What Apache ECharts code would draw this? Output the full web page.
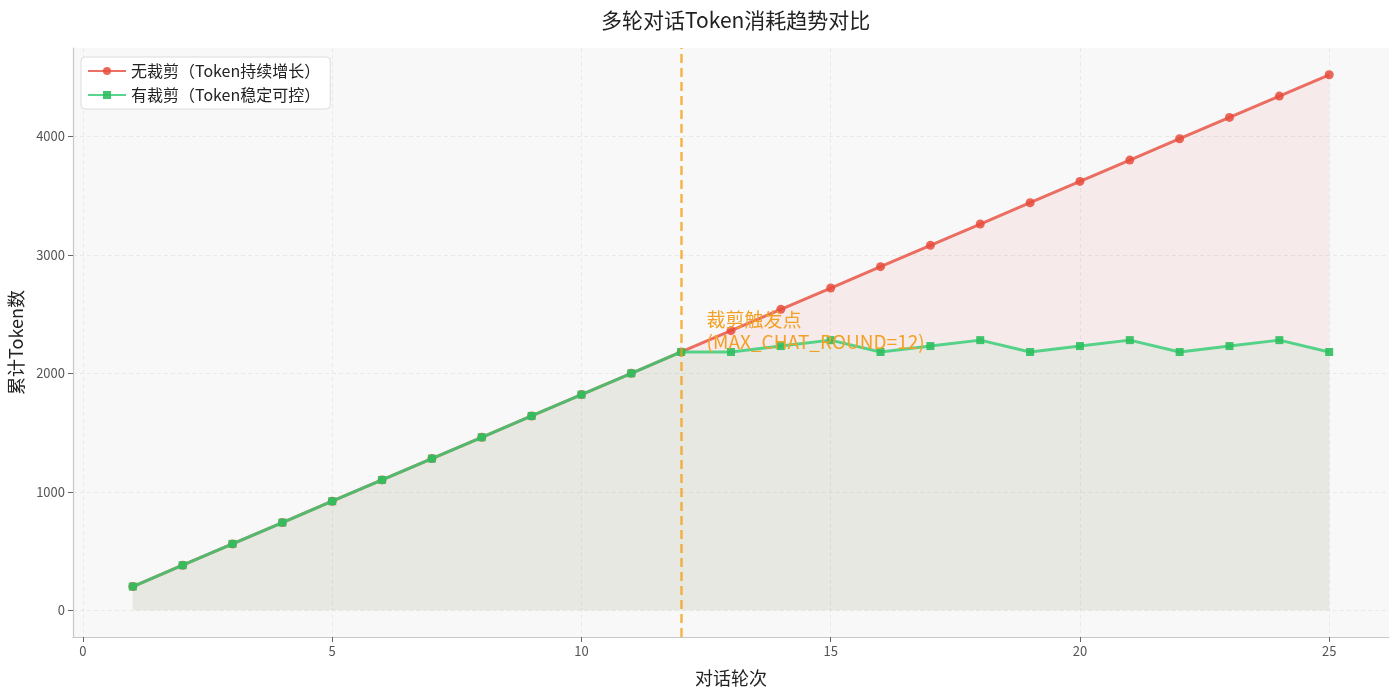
<!DOCTYPE html>
<html>
<head>
<meta charset="utf-8">
<script src="https://cdn.jsdelivr.net/npm/echarts@6/dist/echarts.min.js"></script>
<style>
  html, body { margin: 0; padding: 0; background: #fff; }
  #chart { width: 1400px; height: 695px; }
</style>
</head>
<body>
<div id="chart"></div>
<script>
// 对话轮次
const rounds = [1, 2, 3, 4, 5, 6, 7, 8, 9, 10, 11, 12, 13, 14, 15, 16, 17, 18, 19, 20, 21, 22, 23, 24, 25];
// 无裁剪 累计Token
const noTrimTokens = [200, 380, 560, 740, 920, 1100, 1280, 1460, 1640, 1820, 2000, 2180, 2360,
  2540, 2720, 2900, 3080, 3260, 3440, 3620, 3800, 3980, 4160, 4340, 4520];
// 有裁剪 累计Token
const trimTokens = [200, 380, 560, 740, 920, 1100, 1280, 1460, 1640, 1820, 2000, 2180, 2180,
  2230, 2280, 2180, 2230, 2280, 2180, 2230, 2280, 2180, 2230, 2280, 2180];
const xTicks = [0, 5, 10, 15, 20, 25];
const yTicks = [0, 1000, 2000, 3000, 4000];
const triggerRound = 12;

const font = "'Noto Sans CJK SC', 'DejaVu Sans', sans-serif";
const chart = echarts.init(document.getElementById('chart'));

const toPairs = (ys) => rounds.map((x, i) => [x, ys[i]]);

const axisCommon = {
  axisLine: { show: true, onZero: false, lineStyle: { color: '#c8c8c8', width: 1.2 } },
  axisTick: { show: true, length: 5, lineStyle: { color: '#666' } },
  axisLabel: { color: '#555', fontSize: 13, fontFamily: font, margin: 8, formatter: (v) => String(v) },
  splitLine: { show: true, lineStyle: { color: '#e4e4e4', type: [4, 3], width: 0.8 } },
  nameTextStyle: { color: '#222', fontSize: 18, fontFamily: font },
};

let options = {
  animation: false,
  title: {
    text: '多轮对话Token消耗趋势对比',
    left: 596,
    top: 5,
    textStyle: { fontSize: 21, fontWeight: 'normal', color: '#222', fontFamily: font },
  },
  grid: {
    left: 73, right: 11, top: 48, bottom: 58,
    outerBoundsMode: 'none', containLabel: false,
    show: true, backgroundColor: '#f8f8f8', borderWidth: 0,
  },
  legend: {
    left: 81, top: 57, orient: 'vertical',
    backgroundColor: '#fff', borderColor: '#dcdcdc', borderWidth: 1, borderRadius: 4,
    padding: [6, 10, 6, 6], itemGap: 8, itemWidth: 38, itemHeight: 10,
    textStyle: { fontSize: 16, color: '#222', fontFamily: font },
    data: ['无裁剪（Token持续增长）', '有裁剪（Token稳定可控）'],
  },
  xAxis: Object.assign({}, axisCommon, {
    type: 'value', min: -0.2, max: 26.2,
    name: '对话轮次', nameLocation: 'middle', nameGap: 32,
    axisTick: Object.assign({}, axisCommon.axisTick, { customValues: xTicks }),
    axisLabel: Object.assign({}, axisCommon.axisLabel, { customValues: xTicks }),
  }),
  yAxis: Object.assign({}, axisCommon, {
    type: 'value', min: -226, max: 4746,
    name: '累计Token数', nameLocation: 'middle', nameGap: 46,
    axisTick: Object.assign({}, axisCommon.axisTick, { customValues: yTicks }),
    axisLabel: Object.assign({}, axisCommon.axisLabel, { customValues: yTicks }),
  }),
  series: [
    {
      name: '无裁剪（Token持续增长）',
      type: 'line',
      data: toPairs(noTrimTokens),
      symbol: 'circle', symbolSize: 9,
      lineStyle: { color: 'rgba(231,76,60,0.8)', width: 3 },
      itemStyle: { color: '#e74c3c', opacity: 0.85 },
      areaStyle: { color: 'rgba(231,76,60,0.1)', origin: 0 },
      z: 2,
      markLine: {
        silent: true, symbol: 'none',
        label: { show: false },
        lineStyle: { color: 'rgba(243,156,18,0.75)', type: [9, 5], width: 2.5 },
        data: [{ xAxis: triggerRound }],
      },
      markPoint: {
        silent: true, symbol: 'circle', symbolSize: 1,
        itemStyle: { color: 'rgba(0,0,0,0)' },
        data: [{ coord: [12.5, 2545], value: 1 }],
        label: {
          show: true, position: 'right', distance: 0, align: 'left', verticalAlign: 'top',
          formatter: '裁剪触发点\n(MAX_CHAT_ROUND=12)',
          color: '#f2a126', fontSize: 19, lineHeight: 22, fontFamily: font,
        },
      },
    },
    {
      name: '有裁剪（Token稳定可控）',
      type: 'line',
      data: toPairs(trimTokens),
      symbol: 'rect', symbolSize: 8,
      lineStyle: { color: 'rgba(46,204,113,0.8)', width: 3 },
      itemStyle: { color: '#2ebf5e', opacity: 0.9 },
      areaStyle: { color: 'rgba(46,204,113,0.1)', origin: 0 },
      z: 3,
    },
  ],
};

chart.setOption(options);
</script>
</body>
</html>
